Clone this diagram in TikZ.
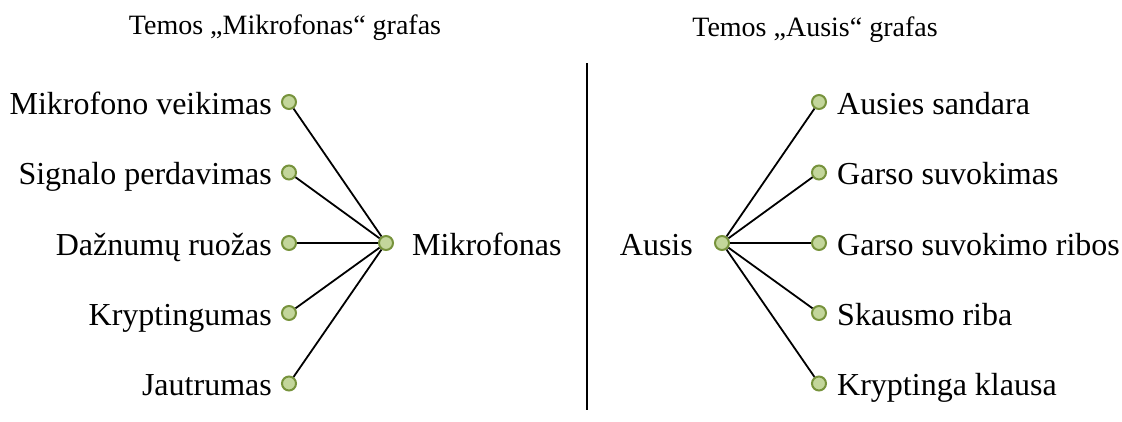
\documentclass[tikz,border=0pt]{standalone}
\usepackage{fontspec}
\setmainfont{Liberation Serif}
\definecolor{dotfill}{HTML}{C3D69B}
\definecolor{dotline}{HTML}{77933C}
\begin{document}
\begin{tikzpicture}[x=1pt,y=-1pt,
  dot/.style={circle,draw=dotline,fill=dotfill,line width=2pt,minimum size=14pt,inner sep=0pt},
  lbl/.style={inner sep=0pt,font=\fontsize{32}{38}\selectfont},
  ttl/.style={inner sep=0pt,font=\fontsize{28}{34}\selectfont,anchor=base},
  edge/.style={draw=black,line width=1.8pt}]
\useasboundingbox (0,0) rectangle (1122,421);
% titles
\node[ttl] (t1) at (285,34) {Temos „Mikrofonas“ grafas};
\node[ttl] (t2) at (815,36) {Temos „Ausis“ grafas};
% divider
\coordinate (vt) at (587,63);
\coordinate (vb) at (587,410);
\draw[line width=1.5pt] (vt) -- (vb);
% left graph
\node[dot] (m) at (386,243) {};
\node[dot] (l1) at (289,102) {};
\node[dot] (l2) at (289,172.5) {};
\node[dot] (l3) at (289,243) {};
\node[dot] (l4) at (289,313) {};
\node[dot] (l5) at (289,383.5) {};
\foreach \i in {1,...,5} \draw[edge] (l\i) -- (m);
\node[lbl,anchor=base east] (tl1) at ([xshift=-17pt,yshift=-12pt]l1.center) {Mikrofono veikimas};
\node[lbl,anchor=base east] (tl2) at ([xshift=-17pt,yshift=-12pt]l2.center) {Signalo perdavimas};
\node[lbl,anchor=base east] (tl3) at ([xshift=-17pt,yshift=-12pt]l3.center) {Dažnumų ruožas};
\node[lbl,anchor=base east] (tl4) at ([xshift=-17pt,yshift=-12pt]l4.center) {Kryptingumas};
\node[lbl,anchor=base east] (tl5) at ([xshift=-17pt,yshift=-12pt]l5.center) {Jautrumas};
\node[lbl,anchor=base west] (tm) at ([xshift=26pt,yshift=-12pt]m.center) {Mikrofonas};
% right graph
\node[dot] (a) at (722,243) {};
\node[dot] (r1) at (819,102) {};
\node[dot] (r2) at (819,172.5) {};
\node[dot] (r3) at (819,243) {};
\node[dot] (r4) at (819,313) {};
\node[dot] (r5) at (819,383.5) {};
\foreach \i in {1,...,5} \draw[edge] (a) -- (r\i);
\node[lbl,anchor=base west] (tr1) at ([xshift=18pt,yshift=-12pt]r1.center) {Ausies sandara};
\node[lbl,anchor=base west] (tr2) at ([xshift=18pt,yshift=-12pt]r2.center) {Garso suvokimas};
\node[lbl,anchor=base west] (tr3) at ([xshift=18pt,yshift=-12pt]r3.center) {Garso suvokimo ribos};
\node[lbl,anchor=base west] (tr4) at ([xshift=18pt,yshift=-12pt]r4.center) {Skausmo riba};
\node[lbl,anchor=base west] (tr5) at ([xshift=18pt,yshift=-12pt]r5.center) {Kryptinga klausa};
\node[lbl,anchor=base east] (ta) at ([xshift=-29pt,yshift=-12pt]a.center) {Ausis};
\end{tikzpicture}
\end{document}
